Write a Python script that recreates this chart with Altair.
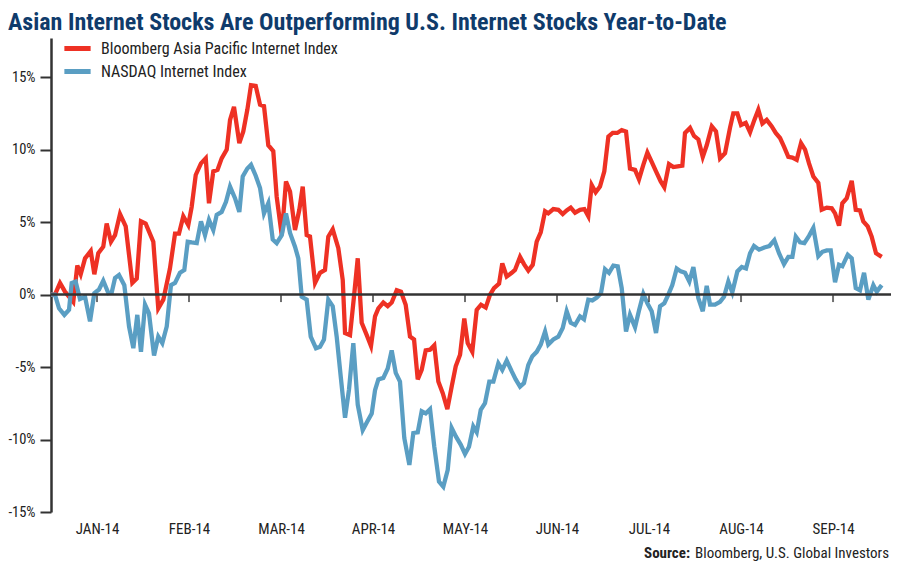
import altair as alt
import pandas as pd

# ---- data (x = months since 31 Dec 2013, y = % change YTD) ----
series_names = ["Bloomberg Asia Pacific Internet Index", "NASDAQ Internet Index"]

red_t = [0, 0.043, 0.098, 0.152, 0.242, 0.286, 0.323, 0.370, 0.432, 0.471, 0.514, 0.568, 0.605, 0.652,
         0.696, 0.750, 0.812, 0.884, 0.932, 0.978, 1.029, 1.112, 1.166, 1.221, 1.293, 1.348, 1.391, 1.438,
         1.492, 1.529, 1.573, 1.630, 1.682, 1.717, 1.764, 1.810, 1.855, 1.910, 1.946, 1.989, 2.047, 2.090,
         2.134, 2.174, 2.225, 2.272, 2.315, 2.362, 2.416, 2.453, 2.508, 2.554, 2.598, 2.652, 2.699, 2.736,
         2.779, 2.815, 2.870, 2.924, 2.978, 3.014, 3.062, 3.123, 3.171, 3.196, 3.250, 3.293, 3.334, 3.377,
         3.432, 3.478, 3.522, 3.558, 3.612, 3.660, 3.703, 3.758, 3.804, 3.855, 3.902, 3.946, 3.986, 4.029,
         4.073, 4.120, 4.166, 4.210, 4.258, 4.308, 4.355, 4.399, 4.446, 4.492, 4.529, 4.579, 4.627, 4.674,
         4.725, 4.772, 4.815, 4.870, 4.905, 4.953, 5.008, 5.043, 5.098, 5.141, 5.188, 5.236, 5.279, 5.323,
         5.370, 5.405, 5.460, 5.514, 5.562, 5.605, 5.649, 5.696, 5.750, 5.797, 5.840, 5.877, 5.920, 5.967,
         6.014, 6.058, 6.105, 6.155, 6.203, 6.250, 6.293, 6.348, 6.391, 6.438, 6.482, 6.529, 6.576, 6.627,
         6.666, 6.717, 6.764, 6.812, 6.862, 6.891, 6.946, 6.989, 7.036, 7.084, 7.127, 7.182, 7.228, 7.272,
         7.326, 7.380, 7.416, 7.460, 7.500, 7.551, 7.598, 7.645, 7.688, 7.732, 7.779, 7.834, 7.877, 7.924,
         7.967, 8.014, 8.058, 8.105, 8.152, 8.196, 8.239, 8.286, 8.340, 8.377, 8.432, 8.486, 8.522, 8.565,
         8.601, 8.649, 8.703, 8.747, 8.793, 8.829, 8.877, 8.920, 8.967, 9.029]
red_v = [0, 0, 0.8, 0.2, -0.5, 2.0, 1.4, 2.5, 3.0, 1.4, 2.85, 3.3, 4.9, 3.65,
         4.1, 5.55, 4.7, 0.8, 1.1, 5.05, 4.9, 3.65, -0.95, -0.35, 1.8, 4.2, 4.2, 5.4,
         4.8, 6.05, 8.25, 9.05, 9.4, 6.3, 8.5, 8.6, 9.4, 10.0, 12.05, 12.95, 10.45, 11.25,
         12.75, 14.45, 14.4, 13.1, 13.0, 10.3, 9.9, 6.75, 4.1, 7.8, 7.1, 4.45, 5.85, 7.45,
         4.1, 4.0, 0.8, 1.5, 1.7, 4.0, 4.5, 3.2, 1.0, -2.65, -2.8, -0.15, 2.5, -1.95,
         -2.8, -3.55, -1.5, -0.95, -0.55, -0.8, -0.55, 0.3, 0.2, -0.7, -2.9, -3.1, -5.85, -5.2,
         -3.85, -3.8, -3.5, -6.0, -6.8, -7.9, -6.35, -4.95, -4.15, -1.65, -3.35, -3.95, -1.05, -0.7,
         -0.9, 0.0, 0.45, 0.75, 2.15, 1.25, 1.5, 1.7, 2.6, 2.1, 1.65, 2.05, 3.65, 4.3,
         5.75, 5.6, 5.9, 5.85, 5.55, 5.8, 6.0, 5.65, 5.85, 5.9, 5.4, 7.55, 7.05, 7.45,
         8.5, 10.9, 11.15, 11.15, 11.35, 11.25, 8.7, 8.6, 7.95, 8.95, 9.8, 9.15, 8.5, 7.8,
         7.4, 9.0, 8.8, 8.85, 8.9, 11.15, 11.5, 10.95, 10.7, 9.5, 10.3, 11.6, 11.25, 9.4,
         9.75, 11.5, 12.5, 12.5, 11.7, 11.85, 11.2, 12.05, 12.75, 11.8, 12.05, 11.6, 11.15, 10.8,
         10.2, 9.5, 9.45, 9.3, 10.45, 10.0, 9.05, 8.15, 7.7, 5.85, 6.0, 5.95, 5.6, 4.75,
         6.3, 6.65, 7.85, 5.85, 5.8, 5.05, 4.7, 4.0, 2.85, 2.6]

blue_t = [0, 0.043, 0.087, 0.145, 0.196, 0.225, 0.268, 0.315, 0.370, 0.424, 0.471, 0.522, 0.568, 0.623,
          0.660, 0.696, 0.739, 0.797, 0.848, 0.895, 0.938, 0.978, 1.022, 1.065, 1.120, 1.166, 1.210, 1.258,
          1.304, 1.348, 1.402, 1.449, 1.486, 1.529, 1.584, 1.630, 1.674, 1.717, 1.764, 1.801, 1.855, 1.902,
          1.946, 2.000, 2.047, 2.084, 2.134, 2.174, 2.225, 2.272, 2.315, 2.362, 2.410, 2.453, 2.508, 2.554,
          2.598, 2.652, 2.688, 2.725, 2.779, 2.823, 2.880, 2.924, 2.967, 3.014, 3.062, 3.105, 3.149, 3.196,
          3.239, 3.286, 3.334, 3.388, 3.438, 3.486, 3.522, 3.558, 3.612, 3.660, 3.703, 3.747, 3.793, 3.840,
          3.895, 3.938, 3.986, 4.029, 4.073, 4.120, 4.166, 4.217, 4.264, 4.312, 4.355, 4.402, 4.453, 4.500,
          4.543, 4.590, 4.627, 4.671, 4.717, 4.764, 4.808, 4.862, 4.905, 4.953, 5.008, 5.051, 5.098, 5.141,
          5.188, 5.232, 5.279, 5.323, 5.370, 5.405, 5.460, 5.514, 5.562, 5.605, 5.649, 5.696, 5.750, 5.793,
          5.840, 5.884, 5.932, 5.978, 6.022, 6.065, 6.112, 6.160, 6.203, 6.250, 6.293, 6.348, 6.391, 6.438,
          6.482, 6.529, 6.576, 6.620, 6.666, 6.710, 6.753, 6.801, 6.845, 6.891, 6.938, 6.982, 7.036, 7.084,
          7.127, 7.163, 7.217, 7.272, 7.315, 7.362, 7.405, 7.460, 7.508, 7.554, 7.598, 7.641, 7.696, 7.753,
          7.808, 7.862, 7.913, 7.967, 8.014, 8.058, 8.095, 8.141, 8.188, 8.239, 8.286, 8.340, 8.384, 8.432,
          8.475, 8.522, 8.565, 8.601, 8.660, 8.703, 8.747, 8.793, 8.837, 8.884, 8.938, 8.975, 9.029]
blue_v = [0, 0, -0.95, -1.4, -1.05, 0.8, 0.9, -0.3, -0.15, -1.85, 0.1, 0.35, 0.95, 0.1,
          0.15, 1.15, 1.35, 0.65, -2.2, -3.7, -1.4, -3.95, -0.7, -1.3, -4.2, -2.9, -3.35, -2.2,
          0.65, 0.8, 1.5, 1.7, 3.65, 3.6, 3.55, 5.05, 4.1, 5.15, 4.45, 5.5, 5.7, 6.4,
          7.45, 6.65, 5.7, 8.15, 8.7, 8.95, 8.2, 7.35, 5.6, 6.3, 3.8, 3.55, 4.1, 5.6,
          4.25, 3.3, 2.5, -0.15, -0.35, -2.9, -3.7, -3.6, -3.1, -0.35, -0.8, -2.9, -5.65, -8.5,
          -6.55, -3.35, -7.6, -9.35, -8.75, -8.2, -6.6, -5.85, -5.75, -5.1, -3.85, -5.4, -6.0, -9.9,
          -11.75, -9.55, -9.5, -8.05, -8.2, -7.9, -10.5, -12.9, -13.25, -12.1, -9.2, -9.8, -10.35, -11.0,
          -10.5, -9.1, -9.5, -7.95, -7.5, -6.0, -6.0, -4.75, -5.2, -4.55, -5.3, -5.85, -6.35, -6.1,
          -4.85, -4.25, -3.95, -3.45, -2.55, -3.45, -3.1, -2.9, -2.3, -1.15, -1.95, -2.1, -1.5, -1.7,
          -0.35, -0.4, -0.2, 0.1, 1.75, 1.5, 2.0, 1.95, 0.45, -2.55, -1.4, -2.25, -1.1, 0.05,
          -0.6, -1.15, -2.65, -0.8, -0.6, 0.0, 0.65, 1.8, 1.6, 1.5, 0.9, 1.9, -0.25, -1.15,
          0.6, -0.7, -0.7, -0.5, -0.15, 0.9, 0.15, 1.6, 1.9, 1.8, 2.85, 3.35, 3.1, 3.25,
          3.35, 3.75, 2.85, 2.1, 2.6, 2.6, 4.0, 3.6, 3.55, 4.05, 4.6, 2.65, 2.95, 3.05,
          3.05, 0.85, 2.05, 1.95, 2.75, 2.5, 0.45, 0.3, 1.5, -0.35, 0.65, 0.2, 0.65]

month_ticks = [0.5, 1.5, 2.5, 3.5, 4.5, 5.5, 6.5, 7.5, 8.5]
month_labels = ["JAN-14", "FEB-14", "MAR-14", "APR-14", "MAY-14", "JUN-14", "JUL-14", "AUG-14", "SEP-14"]
y_ticks = [-15, -10, -5, 0, 5, 10, 15]

title_text = "Asian Internet Stocks Are Outperforming U.S. Internet Stocks Year-to-Date"
source_bold = "Source:"
source_text = "Bloomberg, U.S. Global Investors"

# ---- styling ----
FONT = "Liberation Sans Narrow, Roboto Condensed, DejaVu Sans Condensed, Roboto, sans-serif"
RED = "#ee3124"
BLUE = "#5a9ec3"
AXIS = "#333333"
NAVY = "#0f3b6b"

df = pd.concat([
    pd.DataFrame({"t": red_t, "v": red_v, "series": series_names[0], "k": 0}),
    pd.DataFrame({"t": blue_t, "v": blue_v, "series": series_names[1], "k": 1}),
], ignore_index=True)

x_scale = alt.Scale(domain=[0, 9.13], nice=False, zero=False)
y_scale = alt.Scale(domain=[-15, 17.7], nice=False, zero=False)

label_expr = "[" + ",".join("'%s'" % m for m in month_labels) + "][round(datum.value - 0.5)]"

x_axis = alt.Axis(values=month_ticks, labelExpr=label_expr, domain=False, ticks=False,
                  grid=False, title=None, labelFont=FONT, labelFontSize=15,
                  labelColor="#222222", labelPadding=9)
y_axis = alt.Axis(values=y_ticks, labelExpr="datum.value + '%'", grid=False, title=None,
                  tickSize=11, tickWidth=2, tickColor=AXIS, domainColor=AXIS,
                  domainWidth=2.5, labelFont=FONT, labelFontSize=14.5,
                  labelColor="#222222", labelPadding=5)

lines = alt.Chart(df).mark_line(strokeWidth=4.3).encode(
    x=alt.X("t:Q", scale=x_scale, axis=x_axis),
    y=alt.Y("v:Q", scale=y_scale, axis=y_axis),
    color=alt.Color("series:N",
                    scale=alt.Scale(domain=series_names, range=[RED, BLUE]),
                    legend=alt.Legend(orient="none", legendX=13.5, legendY=-2.5, title=None,
                                      symbolType="M-1.25,0H1.25", symbolStrokeWidth=5,
                                      symbolSize=441, labelFont=FONT, labelFontSize=16,
                                      labelColor="#222222", labelLimit=0, labelOffset=10.5,
                                      rowPadding=0, padding=0)),
    detail="k:N",
)

zero_line = alt.Chart(pd.DataFrame({"v": [0]})).mark_rule(color=AXIS, strokeWidth=2.5).encode(
    y=alt.Y("v:Q", scale=y_scale, axis=y_axis)
)

month_tick_marks = alt.Chart(pd.DataFrame({"t": month_ticks, "v": [0] * len(month_ticks)})).mark_tick(
    orient="vertical", size=7, thickness=2, color=AXIS, yOffset=4
).encode(
    x=alt.X("t:Q", scale=x_scale, axis=x_axis),
    y=alt.Y("v:Q", scale=y_scale, axis=y_axis),
)

src = pd.DataFrame({"a": [1]})
source_regular = alt.Chart(src).mark_text(
    text=source_text, align="right", baseline="middle", font=FONT, fontSize=15, color="#222222"
).encode(x=alt.value(838), y=alt.value(515))
source_b = alt.Chart(src).mark_text(
    text=source_bold, align="right", baseline="middle", font=FONT, fontSize=15,
    fontWeight="bold", color="#222222"
).encode(x=alt.value(639), y=alt.value(515))

chart = alt.layer(lines, zero_line, month_tick_marks, source_regular, source_b).properties(
    width=840, height=474,
    autosize=alt.AutoSizeParams(type="none"),
    padding={"left": 43, "top": 30, "right": 1, "bottom": 50},
    title=alt.Title(title_text, anchor="start", frame="group", dx=-43, offset=1,
                    font=FONT, fontSize=24, fontWeight="bold", color=NAVY),
).configure_view(strokeWidth=0)

chart.save("out.html", embed_options={"renderer": "svg", "actions": False})
